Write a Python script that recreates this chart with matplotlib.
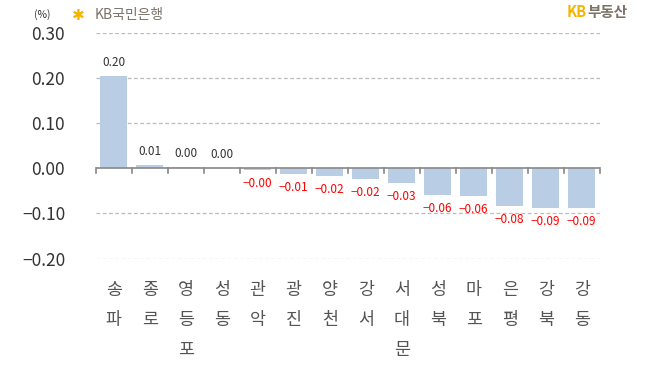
import matplotlib
matplotlib.use('Agg')
import matplotlib.pyplot as plt

plt.rcParams['font.family'] = ['Noto Sans CJK KR', 'DejaVu Sans']
plt.rcParams['axes.unicode_minus'] = True

# 구별 값 (%)
districts = ['송파', '종로', '영등포', '성동', '관악', '광진', '양천', '강서', '서대문', '성북', '마포', '은평', '강북', '강동']
values = [0.205, 0.007, 0.003, 0.001, -0.004, -0.012, -0.017, -0.024, -0.033, -0.059, -0.062, -0.084, -0.088, -0.088]
labels = ['0.20', '0.01', '0.00', '0.00', '-0.00', '-0.01', '-0.02', '-0.02', '-0.03', '-0.06', '-0.06', '-0.08', '-0.09', '-0.09']
yticks = [0.30, 0.20, 0.10, 0.00, -0.10, -0.20]

W, H = 657, 374
fig = plt.figure(figsize=(W / 100, H / 100), dpi=100)
ax = fig.add_axes([95.7 / W, (H - 258.5) / H, 504 / W, 225.5 / H])

x = list(range(len(districts)))
ax.bar(x, values, width=0.75, color='#b9cde5', zorder=2)
ax.set_xlim(-0.5, len(districts) - 0.5)
ax.set_ylim(-0.20, 0.30)

# 격자선
for t in yticks:
    if t != 0:
        ax.axhline(t, color='#bbbbbb', lw=0.9, ls=(0, (3, 2)), zorder=1)
ax.axhline(0, color='#888888', lw=1.2, zorder=3)
for b in range(len(districts) + 1):
    ax.plot([b - 0.5, b - 0.5], [0, -0.011], color='#888888', lw=1.2, zorder=3, clip_on=False)

for s in ax.spines.values():
    s.set_visible(False)
ax.set_yticks(yticks)
ax.set_yticklabels([f'{t:.2f}'.replace('-', '−') for t in yticks], fontsize=12.5, color='#333333')
ax.tick_params(axis='y', length=0, pad=22)
ax.set_xticks(x)
ax.set_xticklabels(['\n'.join(d) for d in districts], fontsize=12.5, color='#555555', linespacing=1.85, va='top')
ax.tick_params(axis='x', length=0, pad=16)

# 값 라벨
for i, (v, lab) in enumerate(zip(values, labels)):
    if v >= 0:
        ax.annotate(lab, (i, v), xytext=(0, 5), textcoords='offset points',
                    ha='center', va='bottom', fontsize=8.5, color='#333333')
    else:
        ax.annotate(lab.replace('-', '−'), (i, v), xytext=(0, -5), textcoords='offset points',
                    ha='center', va='top', fontsize=8.5, color='#ff0000')

# 단위, 로고
fig.text(42 / W, 1 - 15 / H, '(%)', fontsize=7.5, color='#333333', ha='center', va='center')
fig.text(78 / W, 1 - 15 / H, '✱', fontsize=11, color='#f5b400', ha='center', va='center')
fig.text(95 / W, 1 - 15 / H, 'KB국민은행', fontsize=10, color='#7a7268', ha='left', va='center')
fig.text(567 / W, 1 - 12 / H, 'KB', fontsize=10.5, color='#f5b400', weight='bold', ha='left', va='center')
fig.text(587 / W, 1 - 12 / H, '부동산', fontsize=10.5, color='#7a7268', weight='bold', ha='left', va='center')

fig.savefig('out.png', dpi=100)
